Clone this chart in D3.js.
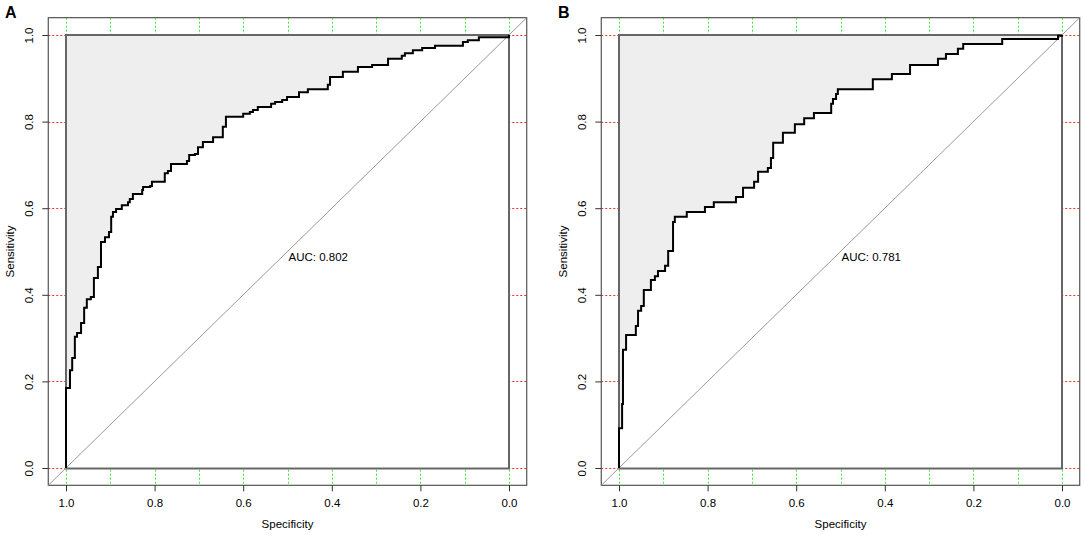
<!DOCTYPE html>
<html>
<head>
<meta charset="utf-8">
<script src="https://cdn.jsdelivr.net/npm/d3@7"></script>
<style>
  body { margin: 0; background: #fff; }
  svg { display: block; font-family: "Liberation Sans", Arial, sans-serif; }
</style>
</head>
<body>
<svg id="chart" width="1084" height="535"></svg>
<script>
// ROC curve points (specificity, sensitivity), ordered from spec 1 to 0
const specA = [1, 1, 0.991, 0.986, 0.980, 0.975, 0.966, 0.959, 0.953, 0.944, 0.937, 0.928, 0.921,
  0.912, 0.903, 0.898, 0.894, 0.887, 0.874, 0.860, 0.856, 0.849, 0.828, 0.826, 0.810, 0.806,
  0.777, 0.770, 0.763, 0.727, 0.722, 0.709, 0.702, 0.691, 0.668, 0.646, 0.639, 0.600, 0.585,
  0.578, 0.567, 0.537, 0.528, 0.512, 0.501, 0.474, 0.454, 0.409, 0.404, 0.375, 0.341, 0.309,
  0.273, 0.242, 0.235, 0.217, 0.196, 0.167, 0.104, 0.093, 0.068, 0];
const sensA = [0, 0.185, 0.226, 0.254, 0.303, 0.312, 0.335, 0.370, 0.390, 0.395, 0.439, 0.464, 0.522,
  0.533, 0.545, 0.580, 0.591, 0.598, 0.607, 0.614, 0.621, 0.633, 0.642, 0.649, 0.651, 0.661,
  0.681, 0.686, 0.702, 0.709, 0.723, 0.725, 0.741, 0.753, 0.764, 0.788, 0.811, 0.818, 0.822,
  0.827, 0.834, 0.841, 0.845, 0.850, 0.857, 0.868, 0.875, 0.885, 0.903, 0.915, 0.926, 0.931,
  0.945, 0.952, 0.958, 0.965, 0.970, 0.975, 0.984, 0.988, 0.995, 1];

const specB = [1, 1, 0.993, 0.991, 0.984, 0.962, 0.957, 0.950, 0.944, 0.928, 0.919, 0.912, 0.896,
  0.889, 0.878, 0.874, 0.847, 0.806, 0.786, 0.736, 0.720, 0.695, 0.686, 0.664, 0.657, 0.652,
  0.630, 0.603, 0.582, 0.560, 0.521, 0.517, 0.510, 0.506, 0.427, 0.384, 0.343, 0.280, 0.262,
  0.235, 0.223, 0.135, 0.009, 0];
const sensB = [0, 0.092, 0.148, 0.273, 0.307, 0.328, 0.363, 0.374, 0.411, 0.434, 0.443, 0.455, 0.467,
  0.501, 0.568, 0.580, 0.591, 0.603, 0.614, 0.626, 0.647, 0.661, 0.684, 0.693, 0.716, 0.751,
  0.774, 0.794, 0.808, 0.820, 0.841, 0.852, 0.864, 0.875, 0.898, 0.910, 0.931, 0.945, 0.956,
  0.968, 0.979, 0.991, 0.998, 1];

const panels = [
  { label: 'A', spec: specA, sens: sensA, auc: '0.802', offset: 0 },
  { label: 'B', spec: specB, sens: sensB, auc: '0.781', offset: 553 }
];

const xTicks = [1, 0.8, 0.6, 0.4, 0.2, 0];
const yTicks = [0, 0.2, 0.4, 0.6, 0.8, 1];
const xGrid = d3.range(0, 11).map(d => d / 10);
const yGrid = [0, 0.2, 0.4, 0.6, 0.8, 1];

const fontSize = 11.5;
const svg = d3.select('#chart');

// x is specificity (reversed), y is sensitivity; R pads each side by 4%
const xScale = d3.scaleLinear().domain([1, 0]).range([66, 509]);
const yScale = d3.scaleLinear().domain([0, 1]).range([468, 35]);
const xLo = xScale(1.04), xHi = xScale(-0.04);
const yLo = yScale(-0.04), yHi = yScale(1.04);

panels.forEach(p => {
  const g = svg.append('g').attr('transform', `translate(${p.offset},0)`);
  const pts = p.spec.map((s, i) => [s, p.sens[i]]);

  // dotted grid
  g.selectAll('.vgrid').data(xGrid).enter().append('line')
    .attr('class', 'vgrid')
    .attr('x1', d => Math.round(xScale(d)) + 0.5).attr('x2', d => Math.round(xScale(d)) + 0.5)
    .attr('y1', yHi).attr('y2', yLo)
    .attr('stroke', '#3ee83e').attr('stroke-width', 1).attr('stroke-dasharray', '2,2');
  g.selectAll('.hgrid').data(yGrid).enter().append('line')
    .attr('class', 'hgrid')
    .attr('x1', xLo).attr('x2', xHi)
    .attr('y1', d => Math.round(yScale(d)) + 0.5).attr('y2', d => Math.round(yScale(d)) + 0.5)
    .attr('stroke', '#f03030').attr('stroke-width', 1).attr('stroke-dasharray', '2,2');

  // max auc polygon (grey square) and the area under the curve in white
  g.append('rect')
    .attr('x', xScale(1)).attr('y', yScale(1))
    .attr('width', xScale(0) - xScale(1)).attr('height', yScale(0) - yScale(1))
    .attr('fill', '#eeeeee');

  g.append('path')
    .datum(pts)
    .attr('d', d3.area().curve(d3.curveStepAfter)
      .x(d => xScale(d[0])).y0(yScale(0)).y1(d => yScale(d[1])))
    .attr('fill', '#fff');

  g.append('rect')
    .attr('x', xScale(1)).attr('y', yScale(1))
    .attr('width', xScale(0) - xScale(1)).attr('height', yScale(0) - yScale(1) + 0.5)
    .attr('fill', 'none').attr('stroke', '#666').attr('stroke-width', 2);

  // plot box
  g.append('rect')
    .attr('x', xLo).attr('y', yHi)
    .attr('width', xHi - xLo).attr('height', yLo - yHi)
    .attr('fill', 'none').attr('stroke', '#555').attr('stroke-width', 1.2);

  // identity line
  g.append('line')
    .attr('x1', xLo).attr('y1', yLo).attr('x2', xHi).attr('y2', yHi)
    .attr('stroke', '#999').attr('stroke-width', 1);

  // ROC curve
  g.append('path')
    .datum(pts)
    .attr('d', d3.line().curve(d3.curveStepAfter)
      .x(d => xScale(d[0])).y(d => yScale(d[1])))
    .attr('fill', 'none').attr('stroke', '#000').attr('stroke-width', 2);

  // axes
  const xAxis = g.append('g')
    .attr('transform', `translate(0,${yLo})`)
    .call(d3.axisBottom(xScale).tickValues(xTicks).tickSize(6).tickFormat(d3.format('.1f')));
  xAxis.select('.domain').remove();
  xAxis.selectAll('.tick line').attr('stroke', '#333');
  xAxis.selectAll('.tick text').attr('y', 14).attr('font-size', fontSize).attr('fill', '#000');

  const yAxis = g.append('g')
    .attr('transform', `translate(${xLo},0)`)
    .call(d3.axisLeft(yScale).tickValues(yTicks).tickSize(6).tickFormat(d3.format('.1f')));
  yAxis.select('.domain').remove();
  yAxis.selectAll('.tick line').attr('stroke', '#333');
  yAxis.selectAll('.tick text')
    .attr('x', 0).attr('y', -15).attr('dy', 0)
    .attr('text-anchor', 'middle')
    .attr('transform', 'rotate(-90)')
    .attr('font-size', fontSize).attr('fill', '#000');

  // axis titles
  g.append('text')
    .text('Specificity')
    .attr('x', (xLo + xHi) / 2).attr('y', 528)
    .attr('text-anchor', 'middle').attr('font-size', fontSize);

  g.append('text')
    .text('Sensitivity')
    .attr('transform', `translate(14,${(yLo + yHi) / 2})rotate(-90)`)
    .attr('text-anchor', 'middle').attr('font-size', fontSize);

  // AUC text, top-left anchored at (0.5, 0.5)
  g.append('text')
    .text(`AUC: ${p.auc}`)
    .attr('x', xScale(0.5) + 1).attr('y', yScale(0.5) + 9.5)
    .attr('font-size', 11.5);

  // panel letter
  g.append('text')
    .text(p.label)
    .attr('x', 5).attr('y', 18)
    .attr('font-size', 16).attr('font-weight', 'bold');
});
</script>
</body>
</html>
